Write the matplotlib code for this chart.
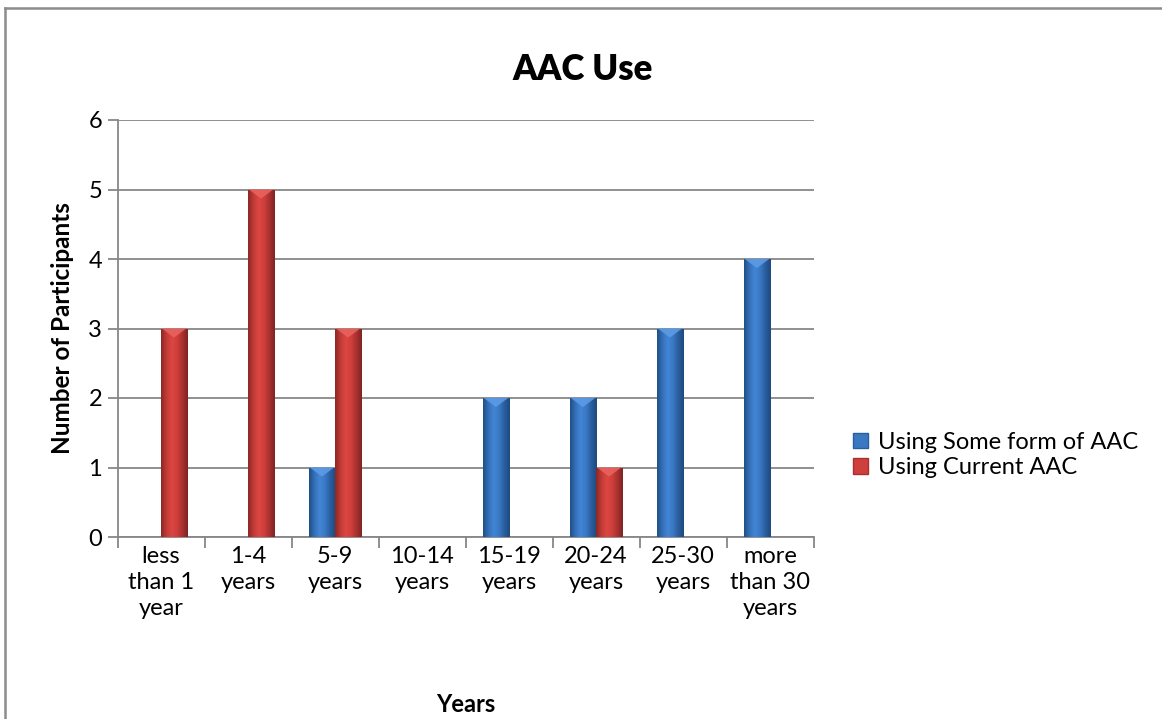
import matplotlib
matplotlib.use('Agg')
import matplotlib.pyplot as plt
import numpy as np
from matplotlib.lines import Line2D
from matplotlib.patches import Patch, Polygon
from matplotlib.colors import LinearSegmentedColormap

# ---- data ----
categories = ["less\nthan 1\nyear", "1-4\nyears", "5-9\nyears", "10-14\nyears",
              "15-19\nyears", "20-24\nyears", "25-30\nyears", "more\nthan 30\nyears"]
some_form = [0, 0, 1, 0, 2, 2, 3, 4]
current = [3, 5, 3, 0, 0, 1, 0, 0]
series_names = ["Using Some form of AAC", "Using Current AAC"]
yticks = [0, 1, 2, 3, 4, 5, 6]
title = "AAC Use"
xlabel = "Years"
ylabel = "Number of Participants"

# ---- style ----
plt.rcParams['font.family'] = ['Lato', 'DejaVu Sans']
blue_main = '#3B78C2'
red_main = '#CF3F3B'
blue_cmap = LinearSegmentedColormap.from_list(
    'b', ['#1F4F86', '#3570B8', '#4286D6', '#3A78C3', '#2A5E9E', '#1D4A7E'])
red_cmap = LinearSegmentedColormap.from_list(
    'r', ['#8A2826', '#C23A36', '#DC4743', '#CF3F3B', '#A93230', '#7E2422'])
grid_col = '#878787'

W, H = 1162, 719
fig = plt.figure(figsize=(W / 100, H / 100), dpi=100)
ax = fig.add_axes([117.5 / W, (H - 537) / H, 696 / W, 417 / H])

x = np.arange(len(categories))
w = 0.3
bars1 = ax.bar(x - w / 2, some_form, w, color=blue_main, zorder=2, label=series_names[0])
bars2 = ax.bar(x + w / 2, current, w, color=red_main, zorder=2, label=series_names[1])

grad = np.linspace(0, 1, 64).reshape(1, -1)
for bars, cmap, tri_col in ((bars1, blue_cmap, '#5C9BE6'), (bars2, red_cmap, '#E8625E')):
    for p in bars:
        h = p.get_height()
        if h <= 0:
            continue
        x0 = p.get_x()
        x1 = x0 + p.get_width()
        im = ax.imshow(grad, extent=[x0, x1, 0, h], cmap=cmap, aspect='auto',
                       zorder=3, interpolation='bicubic')
        im.set_clip_path(p)
        tri = Polygon([[x0 + 0.01, h], [x1 - 0.01, h], [(x0 + x1) / 2, h - 0.13]],
                      closed=True, facecolor=tri_col, edgecolor='none', zorder=4, alpha=0.9)
        ax.add_patch(tri)

ax.set_xlim(-0.5, len(categories) - 0.5)
ax.set_ylim(0, 6)
ax.set_yticks(yticks)
ax.set_xticks(x)
ax.set_xticklabels(categories, fontsize=17, linespacing=1.3)
ax.set_xticks(np.arange(-0.5, len(categories)), minor=True)
ax.tick_params(axis='x', which='major', length=0, pad=6.5)
ax.tick_params(axis='x', which='minor', length=8, width=1.3, color=grid_col)
ax.tick_params(axis='y', length=7, width=1.3, color=grid_col, labelsize=17, pad=4)

ax.grid(axis='y', color=grid_col, linewidth=1.3, zorder=0)
ax.set_axisbelow(True)
for s in ('top', 'right'):
    ax.spines[s].set_visible(False)
for s in ('left', 'bottom'):
    ax.spines[s].set_color(grid_col)
    ax.spines[s].set_linewidth(1.3)

ax.set_ylabel(ylabel, fontsize=17.5, fontweight='bold')
ax.yaxis.set_label_coords((63 - 117.5) / 696, 0.5)
ax.yaxis.label.set_verticalalignment('center')
ax.set_xlabel(xlabel, fontsize=17, fontweight='bold')
ax.xaxis.set_label_coords(0.5, (537 - 705) / 417)
ax.xaxis.label.set_verticalalignment('center')

fig.text(583 / W, 1 - 70 / H, title, ha='center', va='center', fontsize=25, fontweight='heavy')

handles = [Patch(facecolor=blue_main, edgecolor='#2A5E9E'),
           Patch(facecolor=red_main, edgecolor='#A93230')]
ax.legend(handles, series_names, loc='center left', bbox_to_anchor=(853 / W, 1 - 455 / H),
          bbox_transform=fig.transFigure, frameon=False, fontsize=17,
          handlelength=0.65, handleheight=0.65, handletextpad=0.4,
          labelspacing=0.18, borderpad=0, borderaxespad=0)

# chart-area border (top and left visible)
fig.add_artist(Line2D([5 / W, 5 / W], [0, 1 - 8 / H], transform=fig.transFigure,
                      color='#8C8C8C', linewidth=1.8))
fig.add_artist(Line2D([5 / W, 1], [1 - 8 / H, 1 - 8 / H], transform=fig.transFigure,
                      color='#8C8C8C', linewidth=1.8))

fig.savefig('out.png', dpi=100)
